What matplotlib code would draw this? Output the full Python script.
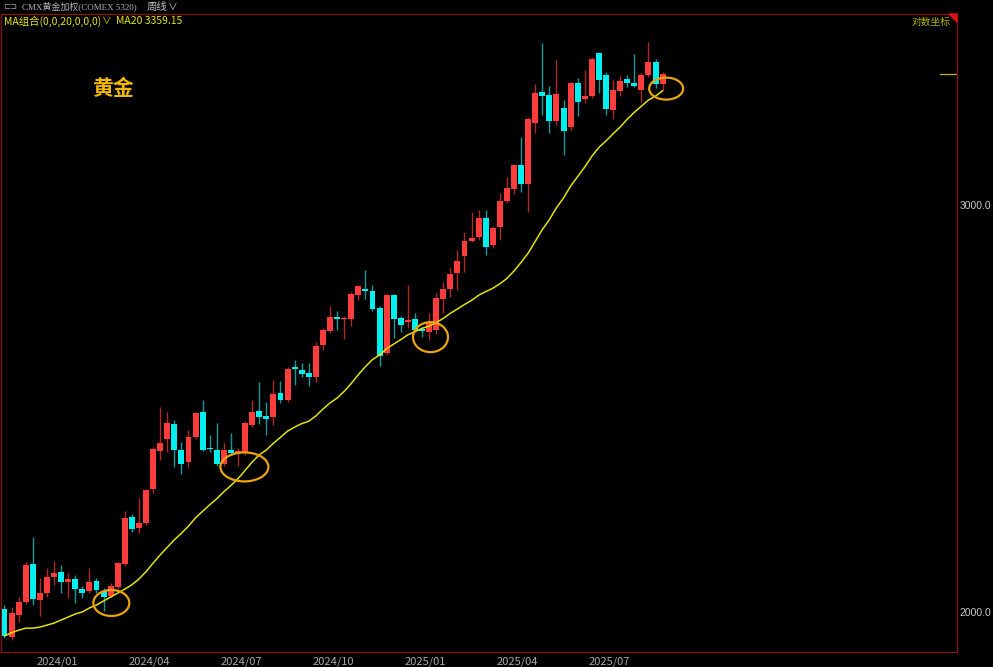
import numpy as np
import pandas as pd
import matplotlib
matplotlib.use("Agg")
import matplotlib.pyplot as plt
from matplotlib.patches import Ellipse, Polygon
from matplotlib.transforms import ScaledTranslation
from matplotlib.ticker import FixedLocator, NullLocator, NullFormatter

plt.rcParams['font.family'] = ['Noto Sans CJK SC', 'DejaVu Sans']

# CMX gold, weekly bars
weeks = pd.date_range("2023-11-13", periods=94, freq="7D")

opens = [2006, 1951, 1994, 2020, 2098, 2024, 2038, 2071, 2081, 2061,
         2067, 2046, 2042, 2063, 2042, 2032, 2050, 2098, 2198, 2175,
         2185, 2261, 2348, 2376, 2412, 2350, 2322, 2381, 2441, 2355,
         2350, 2318, 2350, 2343, 2343, 2410, 2443, 2431, 2429, 2488,
         2470, 2553, 2545, 2538, 2528, 2610, 2646, 2683, 2678, 2678,
         2743, 2759, 2754, 2708, 2589, 2743, 2681, 2670, 2678, 2651,
         2644, 2649, 2732, 2759, 2804, 2851, 2894, 2906, 2961, 2883,
         2935, 3012, 3048, 3122, 3063, 3255, 3357, 3347, 3262, 3304,
         3242, 3388, 3334, 3344, 3490, 3415, 3298, 3361, 3401, 3388,
         3364, 3415, 3459, 3384]
highs = [2014, 2010, 2030, 2102, 2155, 2069, 2090, 2104, 2096, 2079,
         2075, 2053, 2090, 2069, 2048, 2059, 2102, 2212, 2205, 2241,
         2261, 2357, 2453, 2441, 2422, 2369, 2398, 2441, 2470, 2386,
         2414, 2367, 2390, 2355, 2419, 2470, 2515, 2465, 2520, 2518,
         2553, 2571, 2563, 2563, 2617, 2654, 2713, 2699, 2686, 2751,
         2770, 2812, 2770, 2713, 2745, 2745, 2686, 2770, 2694, 2657,
         2694, 2748, 2779, 2820, 2868, 2920, 2979, 2985, 2985, 2938,
         3036, 3085, 3125, 3210, 3275, 3384, 3525, 3378, 3466, 3331,
         3391, 3405, 3432, 3477, 3494, 3425, 3398, 3411, 3415, 3487,
         3422, 3529, 3470, 3425]
lows = [1949, 1945, 1980, 2016, 2014, 1992, 2030, 2055, 2038, 2028,
        2018, 2028, 2038, 2038, 2002, 2030, 2046, 2094, 2166, 2164,
        2181, 2252, 2327, 2346, 2311, 2295, 2311, 2376, 2348, 2346,
        2313, 2313, 2339, 2313, 2339, 2405, 2412, 2386, 2410, 2463,
        2465, 2508, 2528, 2505, 2515, 2597, 2641, 2649, 2625, 2659,
        2729, 2732, 2699, 2556, 2584, 2628, 2644, 2654, 2644, 2630,
        2623, 2638, 2694, 2737, 2756, 2806, 2891, 2897, 2854, 2874,
        2897, 3006, 3033, 3039, 2979, 3223, 3282, 3223, 3249, 3153,
        3233, 3278, 3321, 3337, 3354, 3282, 3268, 3344, 3374, 3374,
        3324, 3408, 3371, 3364]
closes = [1953, 1998, 2020, 2096, 2026, 2038, 2071, 2079, 2061, 2067,
          2046, 2038, 2061, 2044, 2030, 2053, 2100, 2196, 2172, 2185,
          2258, 2353, 2367, 2414, 2350, 2318, 2381, 2439, 2350, 2353,
          2318, 2350, 2343, 2348, 2414, 2441, 2429, 2424, 2485, 2470,
          2548, 2548, 2535, 2528, 2607, 2649, 2683, 2678, 2681, 2745,
          2767, 2754, 2705, 2581, 2743, 2678, 2662, 2675, 2649, 2646,
          2667, 2735, 2759, 2801, 2837, 2894, 2903, 2961, 2877, 2932,
          3012, 3051, 3122, 3063, 3268, 3354, 3344, 3262, 3351, 3230,
          3388, 3324, 3344, 3470, 3398, 3301, 3364, 3394, 3388, 3378,
          3415, 3459, 3384, 3418]

# MA20 for the first 19 weeks (needs history before the window)
ma20_head = [1953, 1959, 1964, 1968, 1968, 1970, 1974, 1978, 1984, 1990,
             1996, 2000, 2008, 2014, 2022, 2030, 2038, 2046, 2055]

month_labels = ["2024/01", "2024/04", "2024/07", "2024/10",
                "2025/01", "2025/04", "2025/07"]
price_ticks = [2000, 3000]

# orange rings where price came back to the MA20
ring_week = [15.1, 33.9, 60.2, 93.5]
ring_price = [2018, 2311, 2630, 3369]
ring_w = [36, 48, 35, 34]
ring_h = [26, 29, 30, 22]

RED = '#FF3C3C'
CYAN = '#00F0F0'
RED_WICK = '#B02828'
CYAN_WICK = '#129A9A'
BORDER = '#8C1010'

x = np.arange(len(closes))
o = np.array(opens, float)
c = np.array(closes, float)
up = c >= o

ma20 = pd.Series(closes, dtype=float).rolling(20).mean()
ma20.iloc[:19] = ma20_head

fig = plt.figure(figsize=(9.93, 6.67), dpi=100, facecolor='black')
ax = fig.add_axes([0.5 / 993, 15 / 667, 956.5 / 993, 638 / 667])
ax.set_facecolor('black')

# wicks then bodies
ax.vlines(x, lows, highs, colors=np.where(up, RED_WICK, CYAN_WICK), lw=1.0, zorder=2)
ax.bar(x, np.abs(c - o), bottom=np.minimum(o, c), width=0.84,
       color=np.where(up, RED, CYAN), linewidth=0, zorder=3)

ax.plot(x, ma20, color='#E2E200', lw=1.1, zorder=4)

# last price marker at the right edge
ax.axhline(closes[-1], xmin=1 - 17 / 957, xmax=1, color='#B8B800', lw=0.9)

ax.set_yscale('log')
ax.set_ylim(1921.8, 3629)
ax.set_xlim(-0.565, 134.6)

ax.yaxis.set_major_locator(FixedLocator(price_ticks))
ax.yaxis.set_minor_locator(NullLocator())
ax.yaxis.set_minor_formatter(NullFormatter())
ax.set_yticklabels([f"{p:.1f}" for p in price_ticks],
                   family=['Liberation Sans', 'DejaVu Sans'])
ax.yaxis.tick_right()
ax.tick_params(axis='y', which='both', length=0, pad=2, labelsize=7.5,
               labelcolor='#C8C8C8')

week_end = weeks + pd.Timedelta(days=6)
tick_pos = []
for lab in month_labels:
    yy, mm = lab.split('/')
    i = np.searchsorted(week_end, pd.Timestamp(int(yy), int(mm), 1))
    tick_pos.append(i + 0.5)
ax.set_xticks(tick_pos)
ax.set_xticklabels(month_labels)
ax.tick_params(axis='x', length=0, pad=3, labelsize=8, labelcolor='#A8A8A8')

for s in ax.spines.values():
    s.set_color(BORDER)
    s.set_linewidth(0.9)

for xi, pi, w, h in zip(ring_week, ring_price, ring_w, ring_h):
    tr = fig.dpi_scale_trans + ScaledTranslation(xi, pi, ax.transData)
    ax.add_patch(Ellipse((0, 0), w / 100, h / 100, transform=tr, fill=False,
                         edgecolor='#E9A40F', lw=1.6, zorder=5))

ax.text(0.117, 0.884, '黄金', transform=ax.transAxes, ha='center', va='center',
        fontsize=15, color='#F2B705', weight='bold')
ax.text(0.993, 0.9875, '对数坐标', transform=ax.transAxes, ha='right', va='center',
        fontsize=7, color='#B4B400')
ax.add_patch(Polygon([(1, 1), (1 - 8 / 957, 1), (1, 1 - 8 / 638)], closed=True,
                     transform=ax.transAxes, color='#E01010', clip_on=False, zorder=6))

# header lines
def px(xp, yp):
    return xp / 993, 1 - yp / 667

fig.text(*px(3, 6.5), '⊏⊐', color='#9A9A9A', fontsize=6, va='center')
fig.text(*px(22, 6.5), 'CMX黄金加权(COMEX 5320)', color='#B0B0B0', fontsize=6.5,
         va='center', family=['Liberation Serif', 'Noto Sans CJK SC'])
fig.text(*px(147, 6.5), '周线', color='#C0C0C0', fontsize=7.5, va='center')
fig.text(*px(168, 6.5), '∨', color='#C0C0C0', fontsize=7, va='center')
fig.text(*px(4, 21), 'MA组合(0,0,20,0,0,0)', color='#E6E600', fontsize=7.5, va='center')
fig.text(*px(102, 21), '∨', color='#D0D000', fontsize=7, va='center')
fig.text(*px(116, 21), 'MA20 3359.15', color='#E6E600', fontsize=7.5, va='center')

fig.savefig('out.png', dpi=100, facecolor='black')
